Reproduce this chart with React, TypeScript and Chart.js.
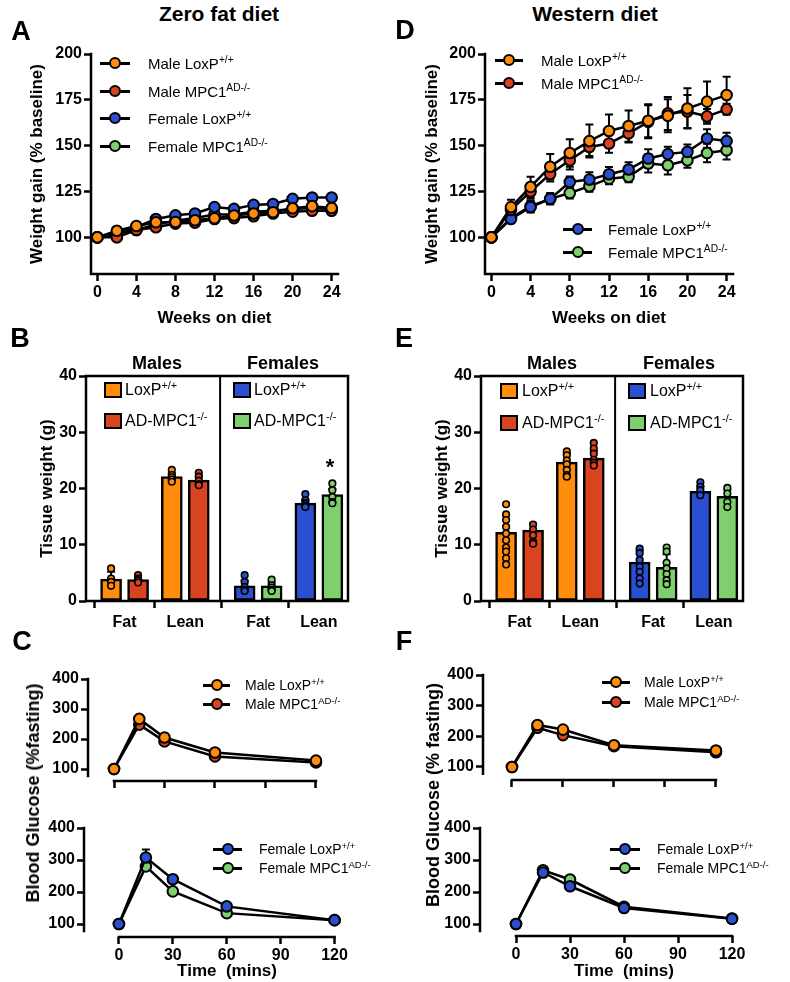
import React, { useEffect, useRef } from "react";
import { Chart, registerables } from "chart.js";

Chart.register(...registerables);

const FONT = "'Liberation Sans', Arial, Helvetica, sans-serif";
Chart.defaults.font.family = FONT;
Chart.defaults.color = "#000";

const ORANGE = "#FF8C0A";
const RED = "#D84420";
const BLUE = "#2A4FD0";
const GREEN = "#7FCF6E";

// ---------------- data ----------------
// A / D : weight gain (% baseline) vs weeks on diet
const weeks = [0, 2, 4, 6, 8, 10, 12, 14, 16, 18, 20, 22, 24];
const weekTicks = [0, 4, 8, 12, 16, 20, 24];
const gainTicks = [100, 125, 150, 175, 200];

const zfMaleLox = [100, 103.6, 106.2, 108.2, 108.4, 109.3, 110.4, 111.9, 113, 113.7, 115.9, 117, 116];
const zfMaleKO = [100, 100, 104, 105.5, 107.5, 108, 110, 110.5, 111.5, 113, 114, 114.5, 114.5];
const zfFemLox = [100, 102, 105.5, 110, 112, 113, 116.5, 115.5, 117.7, 118.2, 121, 121.7, 121.7];
const zfFemKO = [100, 102, 104, 107, 109, 110.5, 112.5, 112.5, 114, 114.5, 115.5, 116, 115.5];
const zfMaleLoxErr = [0, 1.5, 1.5, 1.5, 1.5, 1.5, 1.5, 1.5, 1.5, 1.5, 1.5, 1.5, 1.5];
const zfMaleKOErr = [0, 1.5, 1.5, 1.5, 1.5, 1.5, 1.5, 1.5, 1.5, 1.5, 1.5, 1.5, 1.5];
const zfFemLoxErr = [0, 1.5, 1.5, 1.5, 1.5, 1.5, 1.5, 1.5, 1.5, 1.5, 1.5, 1.5, 1.5];
const zfFemKOErr = [0, 1.5, 1.5, 1.5, 1.5, 1.5, 1.5, 1.5, 1.5, 1.5, 1.5, 1.5, 1.5];

const wdMaleLox = [100, 116.5, 127.5, 138.5, 146, 152.5, 158, 160.7, 163.6, 166.3, 170.3, 174, 177.6];
const wdMaleKO = [100, 115, 125, 134.5, 142, 149.3, 151.2, 156.7, 163, 167.6, 168.6, 166, 169.8];
const wdFemLox = [100, 110, 116.5, 121, 130.2, 131.5, 134.4, 137, 143, 145.4, 146.6, 153.9, 152.5];
const wdFemKO = [100, 110.5, 117, 121, 124.2, 127.9, 132, 133, 140.3, 139.3, 142, 146, 147.5];
const wdMaleLoxErr = [0, 4, 5.5, 7, 7.5, 9, 9, 8.5, 9, 9, 11, 11, 10];
const wdMaleKOErr = [0, 3, 4, 4, 5, 5, 5, 5, 9, 9, 9, 4, 3];
const wdFemLoxErr = [0, 2, 3, 3, 3, 4, 4, 4, 5, 4, 4, 5, 4.5];
const wdFemKOErr = [0, 2, 3, 3, 3, 3, 3, 3, 5, 5, 4, 5, 5];

// B / E : tissue weight (g)
const tissueLabels = ["Fat", "Lean", "Fat", "Lean"];
const tissueTicks = [0, 10, 20, 30, 40];
const zfTissue = [3.9, 3.8, 22.1, 21.5, 2.7, 2.7, 17.4, 18.9];
const zfTissueErr = [1.3, 0.4, 0.6, 0.7, 0.9, 0.6, 0.6, 1.0];
const zfTissueDots = [
  [5.8, 4.0, 3.4, 2.7],
  [4.6, 4.0, 3.7, 3.3],
  [23.3, 22.4, 22.0, 21.6, 21.2],
  [22.8, 22.1, 21.4, 20.8, 20.6],
  [4.6, 3.4, 2.5, 2.0, 1.8],
  [3.8, 2.8, 2.4, 2.0, 1.8],
  [19.0, 17.9, 17.4, 17.0, 16.7],
  [20.9, 19.7, 18.5, 17.6, 17.4],
];
const wdTissue = [12.2, 12.6, 24.7, 25.4, 6.9, 6.0, 19.5, 18.6];
const wdTissueErr = [3.0, 1.2, 1.4, 1.3, 2.1, 2.3, 0.9, 1.2];
const wdTissueDots = [
  [17.2, 15.4, 14.4, 13.2, 12.0, 10.8, 9.5, 8.8, 7.6, 6.5],
  [13.6, 12.7, 11.7, 10.5, 10.2],
  [26.6, 25.9, 25.0, 24.3, 23.3, 22.4, 22.1],
  [28.1, 27.1, 26.2, 25.1, 24.6, 24.1],
  [9.3, 8.5, 7.3, 6.1, 5.2, 4.0, 3.1],
  [9.5, 8.8, 6.8, 5.8, 4.8, 3.7, 3.0],
  [21.1, 20.3, 19.7, 18.8],
  [20.1, 19.1, 17.6, 16.7],
];

// C / F : blood glucose (% fasting)
const minutes = [0, 15, 30, 60, 120];
const minuteTicks = [0, 30, 60, 90, 120];
const glucoseTicks = [100, 200, 300, 400];
const cMaleLox = [100, 267, 205, 155, 128];
const cMaleKO = [100, 248, 192, 142, 122];
const cMaleLoxErr = [0, 12, 8, 6, 5];
const cMaleKOErr = [0, 10, 6, 5, 4];
const cFemLox = [100, 308, 240, 155, 112];
const cFemKO = [100, 280, 202, 134, 112];
const cFemLoxErr = [0, 25, 12, 6, 4];
const cFemKOErr = [0, 10, 8, 5, 4];
const fMaleLox = [100, 237, 222, 171, 154];
const fMaleKO = [100, 228, 204, 168, 148];
const fMaleLoxErr = [0, 8, 8, 6, 6];
const fMaleKOErr = [0, 6, 6, 5, 5];
const fFemLox = [100, 261, 218, 150, 116];
const fFemKO = [100, 268, 239, 154, 117];
const fFemLoxErr = [0, 15, 12, 6, 4];
const fFemKOErr = [0, 8, 8, 5, 4];

// ---------------- layout helpers ----------------
type Rect = { left: number; top: number; width: number; height: number };
type Area = { l: number; t: number; r: number; b: number };

function fitLayout(rect: Rect, area: Area) {
  return {
    padding: { left: 0, top: area.t - rect.top, right: rect.left + rect.width - area.r, bottom: 0 },
    yWidth: area.l - rect.left,
    xHeight: rect.top + rect.height - area.b,
  };
}

// bar slot layout (panel, pair, member)
const BAR_COLORS = [ORANGE, RED, ORANGE, RED, BLUE, GREEN, BLUE, GREEN];
const barX = BAR_COLORS.map((_, i) => Math.floor(i / 4) * 4.95 + (Math.floor(i / 2) % 2) * 2.25 + (i % 2));
const pairX = [0, 1, 2, 3].map((p) => Math.floor(p / 2) * 4.95 + (p % 2) * 2.25 + 0.5);
const BAR_RANGE: [number, number] = [-0.93, 8.78];
const BAR_DIVIDER = 4.04;

const errorBarPlugin = {
  id: "errorBars",
  beforeDatasetsDraw(chart: any) {
    const { ctx } = chart;
    chart.data.datasets.forEach((ds: any, i: number) => {
      if (!ds.errors) return;
      const meta = chart.getDatasetMeta(i);
      const ys = chart.scales[meta.yAxisID];
      ctx.save();
      ctx.strokeStyle = "#000";
      ctx.lineWidth = 2;
      meta.data.forEach((el: any, j: number) => {
        const e = ds.errors[j];
        if (!e) return;
        const raw = ds.data[j];
        const v = typeof raw === "object" ? raw.y : raw;
        const x = el.x;
        const top = ys.getPixelForValue(v + e);
        const bot = ds.errorUpOnly ? ys.getPixelForValue(v) : ys.getPixelForValue(v - e);
        ctx.beginPath();
        ctx.moveTo(x, top);
        ctx.lineTo(x, bot);
        ctx.moveTo(x - 4, top);
        ctx.lineTo(x + 4, top);
        if (!ds.errorUpOnly) {
          ctx.moveTo(x - 4, bot);
          ctx.lineTo(x + 4, bot);
        }
        ctx.stroke();
      });
      ctx.restore();
    });
  },
};

const axisLinesPlugin = {
  id: "axisLines",
  beforeDatasetsDraw(chart: any, _args: any, opts: any) {
    const { ctx, chartArea: a, scales } = chart;
    ctx.save();
    ctx.strokeStyle = "#000";
    ctx.lineWidth = 2.5;
    ctx.lineCap = "square";
    ctx.beginPath();
    if (opts.x) {
      ctx.moveTo(scales.x.getPixelForValue(opts.x[0]), a.bottom);
      ctx.lineTo(scales.x.getPixelForValue(opts.x[1]), a.bottom);
    }
    if (opts.y) {
      ctx.moveTo(a.left, scales.y.getPixelForValue(opts.y[0]));
      ctx.lineTo(a.left, scales.y.getPixelForValue(opts.y[1]));
    }
    if (opts.box) {
      ctx.moveTo(a.left, a.top);
      ctx.lineTo(a.right, a.top);
      ctx.lineTo(a.right, a.bottom);
    }
    ctx.stroke();
    (opts.dividers || []).forEach((v: number) => {
      const x = scales.x.getPixelForValue(v);
      ctx.beginPath();
      ctx.lineWidth = 2;
      ctx.moveTo(x, a.top);
      ctx.lineTo(x, a.bottom);
      ctx.stroke();
    });
    ctx.restore();
  },
};

const tickFont = { family: FONT, size: 16, weight: "bold" as const };
const titleFont = { family: FONT, size: 17, weight: "bold" as const };

function axisCommon() {
  return {
    grid: { drawOnChartArea: false, drawTicks: true, tickLength: 7, tickColor: "#000", tickWidth: 2.5 },
    border: { display: false },
  };
}

type Series = { data: number[]; err: number[]; color: string; label: string };

function lineChart(o: {
  rect: Rect;
  area: Area;
  xs: number[];
  series: Series[];
  xRange: [number, number];
  xTicks: number[];
  xLabels: boolean;
  yRange: [number, number];
  yTicks: number[];
  xLine: [number, number];
  yLine: [number, number];
  yTitle?: string;
  yTitleX?: number;
  xTitle?: string;
  xTitleY?: number;
}) {
  const L = fitLayout(o.rect, o.area);
  return {
    type: "line",
    data: {
      datasets: o.series.map((s) => ({
        label: s.label,
        data: o.xs.map((x, i) => ({ x, y: s.data[i] })),
        errors: s.err,
        borderColor: "#000",
        borderWidth: 2.5,
        pointRadius: 5.3,
        pointBorderWidth: 2,
        pointBackgroundColor: s.color,
        pointBorderColor: "#000",
        tension: 0,
        clip: false,
        fill: false,
      })),
    },
    options: {
      responsive: false,
      animation: false,
      devicePixelRatio: 1,
      events: [],
      layout: { padding: L.padding },
      plugins: {
        legend: { display: false },
        tooltip: { enabled: false },
        axisLines: { x: o.xLine, y: o.yLine },
      },
      scales: {
        x: {
          type: "linear",
          min: o.xRange[0],
          max: o.xRange[1],
          offset: false,
          afterBuildTicks: (s: any) => {
            s.ticks = o.xTicks.map((value) => ({ value }));
          },
          afterFit: (s: any) => {
            s.height = L.xHeight;
          },
          ticks: { display: o.xLabels, color: "#000", font: tickFont, padding: 2, autoSkip: false, maxRotation: 0 },
          ...axisCommon(),
          title: o.xTitle
            ? {
                display: true,
                text: o.xTitle,
                color: "#000",
                font: titleFont,
                padding: { top: 0, bottom: o.rect.top + o.rect.height - (o.xTitleY as number) - 10.2 },
              }
            : { display: false },
        },
        y: {
          type: "linear",
          min: o.yRange[0],
          max: o.yRange[1],
          afterBuildTicks: (s: any) => {
            s.ticks = o.yTicks.map((value) => ({ value }));
          },
          afterFit: (s: any) => {
            s.width = L.yWidth;
          },
          ticks: { color: "#000", font: tickFont, padding: 2, autoSkip: false },
          ...axisCommon(),
          title: o.yTitle
            ? {
                display: true,
                text: o.yTitle,
                color: "#000",
                font: titleFont,
                padding: { top: (o.yTitleX as number) - o.rect.left - 10.2, bottom: 0 },
              }
            : { display: false },
        },
      },
    },
    plugins: [axisLinesPlugin, errorBarPlugin],
  };
}

function barChart(o: {
  rect: Rect;
  area: Area;
  bars: number[];
  errs: number[];
  dots: number[][];
  yTitle: string;
  yTitleX: number;
}) {
  const L = fitLayout(o.rect, o.area);
  return {
    type: "bar",
    data: {
      datasets: [
        {
          type: "bar",
          data: o.bars.map((y, i) => ({ x: barX[i], y })),
          backgroundColor: BAR_COLORS,
          borderColor: "#000",
          borderWidth: 2.5,
          borderSkipped: false,
          barThickness: 21,
          grouped: false,
          order: 2,
          errors: o.errs,
          errorUpOnly: true,
        },
        ...o.dots.map((vals, i) => ({
          type: "scatter",
          data: vals.map((y) => ({ x: barX[i], y })),
          pointRadius: 3.3,
          pointBorderWidth: 1.6,
          pointBackgroundColor: BAR_COLORS[i],
          pointBorderColor: "#000",
          showLine: false,
          order: 1,
          clip: false,
        })),
      ],
    },
    options: {
      responsive: false,
      animation: false,
      devicePixelRatio: 1,
      events: [],
      layout: { padding: L.padding },
      plugins: {
        legend: { display: false },
        tooltip: { enabled: false },
        axisLines: { x: BAR_RANGE, y: [0, 40], box: true, dividers: [BAR_DIVIDER] },
      },
      scales: {
        x: {
          type: "linear",
          min: BAR_RANGE[0],
          max: BAR_RANGE[1],
          offset: false,
          afterBuildTicks: (s: any) => {
            s.ticks = pairX.map((value) => ({ value }));
          },
          afterFit: (s: any) => {
            s.height = L.xHeight;
          },
          ticks: {
            color: "#000",
            font: { family: FONT, size: 16, weight: "bold" },
            padding: 5,
            autoSkip: false,
            maxRotation: 0,
            callback: (_v: any, i: number) => tissueLabels[i],
          },
          ...axisCommon(),
        },
        y: {
          type: "linear",
          min: 0,
          max: 40,
          afterBuildTicks: (s: any) => {
            s.ticks = tissueTicks.map((value) => ({ value }));
          },
          afterFit: (s: any) => {
            s.width = L.yWidth;
          },
          ticks: { color: "#000", font: tickFont, padding: 2, autoSkip: false },
          ...axisCommon(),
          title: {
            display: true,
            text: o.yTitle,
            color: "#000",
            font: titleFont,
            padding: { top: o.yTitleX - o.rect.left - 10.2, bottom: 0 },
          },
        },
      },
    },
    plugins: [axisLinesPlugin, errorBarPlugin],
  };
}

function ChartCanvas({ rect, make }: { rect: Rect; make: () => any }) {
  const ref = useRef<HTMLCanvasElement>(null);
  useEffect(() => {
    const chart = new Chart(ref.current as HTMLCanvasElement, make());
    return () => chart.destroy();
  }, []);
  return (
    <canvas
      ref={ref}
      width={rect.width}
      height={rect.height}
      style={{ position: "absolute", left: rect.left, top: rect.top, width: rect.width, height: rect.height }}
    />
  );
}

// ---------------- text overlays ----------------
function Txt({
  x,
  y,
  size,
  bold,
  anchor = "center",
  rotate,
  children,
}: {
  x: number;
  y: number;
  size: number;
  bold?: boolean;
  anchor?: "center" | "left";
  rotate?: boolean;
  children: React.ReactNode;
}) {
  const tf =
    anchor === "center" ? "translate(-50%,-50%)" + (rotate ? " rotate(-90deg)" : "") : "translate(0,-50%)";
  return (
    <div
      style={{
        position: "absolute",
        left: x,
        top: y,
        transform: tf,
        fontFamily: FONT,
        fontSize: size,
        fontWeight: bold ? "bold" : "normal",
        lineHeight: 1,
        whiteSpace: "pre",
        color: "#000",
      }}
    >
      {children}
    </div>
  );
}

const Sup = ({ children }: { children: React.ReactNode }) => (
  <sup style={{ fontSize: "0.68em", verticalAlign: "0.55em", lineHeight: 0 }}>{children}</sup>
);

function LineKey({ x0, x1, y, color }: { x0: number; x1: number; y: number; color: string }) {
  return (
    <>
      <div style={{ position: "absolute", left: x0, top: y - 1.5, width: x1 - x0, height: 3, background: "#000" }} />
      <div
        style={{
          position: "absolute",
          left: (x0 + x1) / 2 - 6,
          top: y - 6,
          width: 12,
          height: 12,
          boxSizing: "border-box",
          borderRadius: "50%",
          border: "2.2px solid #000",
          background: color,
        }}
      />
    </>
  );
}

function LineLegend({
  x0,
  x1,
  tx,
  ys,
  items,
  size,
}: {
  x0: number;
  x1: number;
  tx: number;
  ys: number[];
  items: { color: string; name: string; sup: string }[];
  size: number;
}) {
  return (
    <>
      {items.map((it, i) => (
        <React.Fragment key={i}>
          <LineKey x0={x0} x1={x1} y={ys[i]} color={it.color} />
          <Txt x={tx} y={ys[i]} size={size} anchor="left">
            {it.name}
            <Sup>{it.sup}</Sup>
          </Txt>
        </React.Fragment>
      ))}
    </>
  );
}

function SwatchLegend({ x, tx, ys, items }: { x: number; tx: number; ys: number[]; items: { color: string; name: string; sup: string }[] }) {
  return (
    <>
      {items.map((it, i) => (
        <React.Fragment key={i}>
          <div
            style={{
              position: "absolute",
              left: x,
              top: ys[i] - 8,
              width: 18,
              height: 16,
              boxSizing: "border-box",
              border: "2.5px solid #000",
              background: it.color,
            }}
          />
          <Txt x={tx} y={ys[i]} size={16} anchor="left">
            {it.name}
            <Sup>{it.sup}</Sup>
          </Txt>
        </React.Fragment>
      ))}
    </>
  );
}

// ---------------- chart geometry ----------------
const rectA: Rect = { left: 0, top: 40, width: 360, height: 300 };
const areaA: Area = { l: 91, t: 54, r: 338, b: 274 };
const rectD: Rect = { left: 395, top: 40, width: 360, height: 300 };
const areaD: Area = { l: 485, t: 54, r: 733, b: 274 };
const rectB: Rect = { left: 0, top: 360, width: 370, height: 285 };
const areaB: Area = { l: 86, t: 376, r: 348, b: 601 };
const rectE: Rect = { left: 395, top: 360, width: 370, height: 285 };
const areaE: Area = { l: 481, t: 376, r: 743, b: 601 };
const rectC1: Rect = { left: 0, top: 655, width: 340, height: 140 };
const areaC1: Area = { l: 88, t: 679, r: 318, b: 781 };
const rectC2: Rect = { left: 0, top: 805, width: 350, height: 177 };
const areaC2: Area = { l: 84, t: 828, r: 337, b: 937 };
const rectF1: Rect = { left: 395, top: 655, width: 345, height: 140 };
const areaF1: Area = { l: 483, t: 675, r: 718, b: 780 };
const rectF2: Rect = { left: 395, top: 805, width: 360, height: 177 };
const areaF2: Area = { l: 480, t: 828, r: 734, b: 936 };

const WEEK_RANGE: [number, number] = [-0.65, 24.65];

export default function App() {
  return (
    <div
      style={{
        position: "absolute",
        left: 0,
        top: 0,
        width: 790,
        height: 982,
        background: "#fff",
        overflow: "hidden",
        fontFamily: FONT,
      }}
    >
      {/* A */}
      <ChartCanvas
        rect={rectA}
        make={() =>
          lineChart({
            rect: rectA,
            area: areaA,
            xs: weeks,
            series: [
              { label: "Male LoxP+/+", data: zfMaleLox, err: zfMaleLoxErr, color: ORANGE },
              { label: "Male MPC1AD-/-", data: zfMaleKO, err: zfMaleKOErr, color: RED },
              { label: "Female LoxP+/+", data: zfFemLox, err: zfFemLoxErr, color: BLUE },
              { label: "Female MPC1AD-/-", data: zfFemKO, err: zfFemKOErr, color: GREEN },
            ],
            xRange: WEEK_RANGE,
            xTicks: weekTicks,
            xLabels: true,
            yRange: [80, 200],
            yTicks: gainTicks,
            xLine: WEEK_RANGE,
            yLine: [80, 200],
            yTitle: "Weight gain (% baseline)",
            yTitleX: 37,
            xTitle: "Weeks on diet",
            xTitleY: 318,
          })
        }
      />
      {/* D */}
      <ChartCanvas
        rect={rectD}
        make={() =>
          lineChart({
            rect: rectD,
            area: areaD,
            xs: weeks,
            series: [
              { label: "Male LoxP+/+", data: wdMaleLox, err: wdMaleLoxErr, color: ORANGE },
              { label: "Male MPC1AD-/-", data: wdMaleKO, err: wdMaleKOErr, color: RED },
              { label: "Female LoxP+/+", data: wdFemLox, err: wdFemLoxErr, color: BLUE },
              { label: "Female MPC1AD-/-", data: wdFemKO, err: wdFemKOErr, color: GREEN },
            ],
            xRange: WEEK_RANGE,
            xTicks: weekTicks,
            xLabels: true,
            yRange: [80, 200],
            yTicks: gainTicks,
            xLine: WEEK_RANGE,
            yLine: [80, 200],
            yTitle: "Weight gain (% baseline)",
            yTitleX: 432,
            xTitle: "Weeks on diet",
            xTitleY: 318,
          })
        }
      />
      {/* B */}
      <ChartCanvas
        rect={rectB}
        make={() =>
          barChart({ rect: rectB, area: areaB, bars: zfTissue, errs: zfTissueErr, dots: zfTissueDots, yTitle: "Tissue weight (g)", yTitleX: 47 })
        }
      />
      {/* E */}
      <ChartCanvas
        rect={rectE}
        make={() =>
          barChart({ rect: rectE, area: areaE, bars: wdTissue, errs: wdTissueErr, dots: wdTissueDots, yTitle: "Tissue weight (g)", yTitleX: 442 })
        }
      />
      {/* C */}
      <ChartCanvas
        rect={rectC1}
        make={() =>
          lineChart({
            rect: rectC1,
            area: areaC1,
            xs: minutes,
            series: [
              { label: "Male LoxP+/+", data: cMaleLox, err: cMaleLoxErr, color: ORANGE },
              { label: "Male MPC1AD-/-", data: cMaleKO, err: cMaleKOErr, color: RED },
            ],
            xRange: [-15.45, 121.2],
            xTicks: minuteTicks,
            xLabels: false,
            yRange: [60, 400],
            yTicks: glucoseTicks,
            xLine: [0, 120],
            yLine: [77, 400],
          })
        }
      />
      <ChartCanvas
        rect={rectC2}
        make={() =>
          lineChart({
            rect: rectC2,
            area: areaC2,
            xs: minutes,
            series: [
              { label: "Female LoxP+/+", data: cFemLox, err: cFemLoxErr, color: BLUE },
              { label: "Female MPC1AD-/-", data: cFemKO, err: cFemKOErr, color: GREEN },
            ],
            xRange: [-19.44, 121.1],
            xTicks: minuteTicks,
            xLabels: true,
            yRange: [59.4, 400],
            yTicks: glucoseTicks,
            xLine: [0, 120],
            yLine: [78, 400],
          })
        }
      />
      {/* F */}
      <ChartCanvas
        rect={rectF1}
        make={() =>
          lineChart({
            rect: rectF1,
            area: areaF1,
            xs: minutes,
            series: [
              { label: "Male LoxP+/+", data: fMaleLox, err: fMaleLoxErr, color: ORANGE },
              { label: "Male MPC1AD-/-", data: fMaleKO, err: fMaleKOErr, color: RED },
            ],
            xRange: [-17.06, 121.2],
            xTicks: minuteTicks,
            xLabels: false,
            yRange: [57.6, 400],
            yTicks: glucoseTicks,
            xLine: [0, 120],
            yLine: [78, 400],
          })
        }
      />
      <ChartCanvas
        rect={rectF2}
        make={() =>
          lineChart({
            rect: rectF2,
            area: areaF2,
            xs: minutes,
            series: [
              { label: "Female LoxP+/+", data: fFemLox, err: fFemLoxErr, color: BLUE },
              { label: "Female MPC1AD-/-", data: fFemKO, err: fFemKOErr, color: GREEN },
            ],
            xRange: [-20, 121.1],
            xTicks: minuteTicks,
            xLabels: true,
            yRange: [62.5, 400],
            yTicks: glucoseTicks,
            xLine: [0, 120],
            yLine: [78, 400],
          })
        }
      />

      {/* titles and panel letters */}
      <Txt x={219} y={13} size={21} bold>Zero fat diet</Txt>
      <Txt x={595} y={13} size={21} bold>Western diet</Txt>
      <Txt x={21} y={31} size={27} bold>A</Txt>
      <Txt x={405} y={30} size={27} bold>D</Txt>
      <Txt x={20} y={338} size={27} bold>B</Txt>
      <Txt x={404} y={338} size={27} bold>E</Txt>
      <Txt x={22} y={641} size={27} bold>C</Txt>
      <Txt x={404} y={641} size={27} bold>F</Txt>

      {/* legends A / D */}
      <LineLegend
        x0={100}
        x1={130}
        tx={148}
        ys={[63, 91, 118, 146]}
        size={15}
        items={[
          { color: ORANGE, name: "Male LoxP", sup: "+/+" },
          { color: RED, name: "Male MPC1", sup: "AD-/-" },
          { color: BLUE, name: "Female LoxP", sup: "+/+" },
          { color: GREEN, name: "Female MPC1", sup: "AD-/-" },
        ]}
      />
      <LineLegend
        x0={495}
        x1={523}
        tx={541}
        ys={[60, 83]}
        size={15}
        items={[
          { color: ORANGE, name: "Male LoxP", sup: "+/+" },
          { color: RED, name: "Male MPC1", sup: "AD-/-" },
        ]}
      />
      <LineLegend
        x0={563}
        x1={592}
        tx={608}
        ys={[229, 252]}
        size={15}
        items={[
          { color: BLUE, name: "Female LoxP", sup: "+/+" },
          { color: GREEN, name: "Female MPC1", sup: "AD-/-" },
        ]}
      />

      {/* B / E headers and legends */}
      <Txt x={157} y={363} size={18} bold>Males</Txt>
      <Txt x={283} y={363} size={18} bold>Females</Txt>
      <Txt x={552} y={363} size={18} bold>Males</Txt>
      <Txt x={679} y={363} size={18} bold>Females</Txt>
      <SwatchLegend
        x={104}
        tx={125}
        ys={[390, 421]}
        items={[
          { color: ORANGE, name: "LoxP", sup: "+/+" },
          { color: RED, name: "AD-MPC1", sup: "-/-" },
        ]}
      />
      <SwatchLegend
        x={233}
        tx={254}
        ys={[390, 421]}
        items={[
          { color: BLUE, name: "LoxP", sup: "+/+" },
          { color: GREEN, name: "AD-MPC1", sup: "-/-" },
        ]}
      />
      <SwatchLegend
        x={500}
        tx={522}
        ys={[391, 423]}
        items={[
          { color: ORANGE, name: "LoxP", sup: "+/+" },
          { color: RED, name: "AD-MPC1", sup: "-/-" },
        ]}
      />
      <SwatchLegend
        x={628}
        tx={650}
        ys={[391, 423]}
        items={[
          { color: BLUE, name: "LoxP", sup: "+/+" },
          { color: GREEN, name: "AD-MPC1", sup: "-/-" },
        ]}
      />
      <Txt x={330} y={467} size={22} bold>*</Txt>

      {/* C / F legends and titles */}
      <LineLegend
        x0={203}
        x1={230}
        tx={245}
        ys={[685, 704]}
        size={14}
        items={[
          { color: ORANGE, name: "Male LoxP", sup: "+/+" },
          { color: RED, name: "Male MPC1", sup: "AD-/-" },
        ]}
      />
      <LineLegend
        x0={213}
        x1={242}
        tx={259}
        ys={[849, 868]}
        size={14}
        items={[
          { color: BLUE, name: "Female LoxP", sup: "+/+" },
          { color: GREEN, name: "Female MPC1", sup: "AD-/-" },
        ]}
      />
      <LineLegend
        x0={602}
        x1={630}
        tx={644}
        ys={[682, 702]}
        size={14}
        items={[
          { color: ORANGE, name: "Male LoxP", sup: "+/+" },
          { color: RED, name: "Male MPC1", sup: "AD-/-" },
        ]}
      />
      <LineLegend
        x0={610}
        x1={640}
        tx={657}
        ys={[849, 868]}
        size={14}
        items={[
          { color: BLUE, name: "Female LoxP", sup: "+/+" },
          { color: GREEN, name: "Female MPC1", sup: "AD-/-" },
        ]}
      />
      <Txt x={33} y={793} size={18} bold rotate>Blood Glucose (%fasting)</Txt>
      <Txt x={433} y={795} size={18} bold rotate>Blood Glucose (% fasting)</Txt>
      <Txt x={227} y={970} size={17} bold>Time  (mins)</Txt>
      <Txt x={624} y={970} size={17} bold>Time  (mins)</Txt>
    </div>
  );
}
